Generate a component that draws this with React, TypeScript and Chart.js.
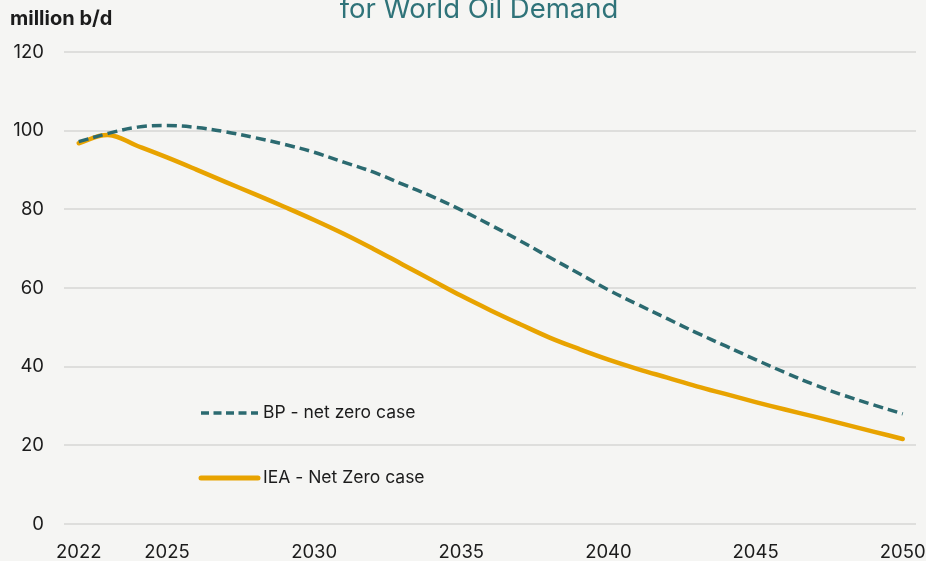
import React, { useEffect, useRef } from "react";
import { Chart, registerables } from "chart.js";

Chart.register(...registerables);

// Years on the horizontal axis
const years = [
  2022, 2023, 2024, 2025, 2026, 2027, 2028, 2029, 2030, 2031,
  2032, 2033, 2034, 2035, 2036, 2037, 2038, 2039, 2040, 2041,
  2042, 2043, 2044, 2045, 2046, 2047, 2048, 2049, 2050,
];

// World oil demand, million barrels per day
const bpNetZero = [
  97.2, 99.3, 100.9, 101.3, 100.8, 99.7, 98.2, 96.5, 94.5, 92.0,
  89.5, 86.4, 83.3, 79.8, 76.0, 72.0, 67.8, 63.7, 59.5, 55.8,
  52.2, 48.6, 45.2, 41.8, 38.5, 35.4, 32.7, 30.3, 28.0,
];
const ieaNetZero = [
  96.8, 98.9, 96.1, 93.2, 90.1, 86.9, 83.8, 80.6, 77.3, 73.8,
  70.0, 66.0, 62.0, 58.0, 54.3, 50.8, 47.4, 44.5, 41.8, 39.4,
  37.2, 35.0, 33.0, 31.0, 29.1, 27.3, 25.4, 23.5, 21.6,
];

const xTickYears = [2022, 2025, 2030, 2035, 2040, 2045, 2050];
const yTickValues = [0, 20, 40, 60, 80, 100, 120];

const titleText = "for World Oil Demand";
const unitText = "million b/d";
const seriesNames = ["BP - net zero case", "IEA - Net Zero case"];

const TEAL = "#2b6a70";
const TITLE_TEAL = "#2f7379";
const GOLD = "#e8a300";
const TEXT = "#1c1c1c";
const GRID = "#dededc";
const BG = "#f5f5f3";
const FONT = "Inter, 'Open Sans', sans-serif";

const decorations = {
  id: "decorations",
  beforeDraw(chart: any) {
    const { ctx, width, height } = chart;
    ctx.save();
    ctx.fillStyle = BG;
    ctx.fillRect(0, 0, width, height);
    ctx.restore();
  },
  afterDraw(chart: any) {
    const { ctx, chartArea } = chart;
    ctx.save();

    // heading (second line, partly above the canvas edge)
    ctx.fillStyle = TITLE_TEAL;
    ctx.font = `400 27.5px ${FONT}`;
    ctx.textAlign = "center";
    ctx.textBaseline = "alphabetic";
    ctx.fillText(titleText, 479, 18);

    // unit label
    ctx.fillStyle = TEXT;
    ctx.font = `700 20px ${FONT}`;
    ctx.textAlign = "left";
    ctx.fillText(unitText, 10, 25);

    // in-plot legend
    const items = [
      { name: seriesNames[0], color: TEAL, width: 3.5, dash: [8, 4.5], y: 413 },
      { name: seriesNames[1], color: GOLD, width: 5, dash: [], y: 478 },
    ];
    const x0 = chartArea.left + 137;
    items.forEach((it) => {
      ctx.beginPath();
      ctx.strokeStyle = it.color;
      ctx.lineWidth = it.width;
      ctx.lineCap = it.dash.length ? "butt" : "round";
      ctx.setLineDash(it.dash);
      ctx.moveTo(x0, it.y);
      ctx.lineTo(x0 + 57, it.y);
      ctx.stroke();
      ctx.setLineDash([]);
      ctx.fillStyle = TEXT;
      ctx.font = `400 17.5px ${FONT}`;
      ctx.textBaseline = "middle";
      ctx.fillText(it.name, x0 + 62, it.y);
    });
    ctx.restore();
  },
};

export default function App() {
  const canvasRef = useRef<HTMLCanvasElement | null>(null);

  useEffect(() => {
    document.body.style.margin = "0";
    document.body.style.background = BG;
    const canvas = canvasRef.current;
    if (!canvas) return;

    const chart = new Chart(canvas, {
      type: "line",
      data: {
        datasets: [
          {
            label: seriesNames[0],
            data: years.map((x, i) => ({ x, y: bpNetZero[i] })),
            borderColor: TEAL,
            borderWidth: 3.5,
            borderDash: [10, 5],
            pointRadius: 0,
            tension: 0.4,
            fill: false,
          },
          {
            label: seriesNames[1],
            data: years.map((x, i) => ({ x, y: ieaNetZero[i] })),
            borderColor: GOLD,
            borderWidth: 4.5,
            borderCapStyle: "round",
            pointRadius: 0,
            tension: 0.4,
            fill: false,
          },
        ],
      },
      options: {
        animation: false,
        responsive: false,
        devicePixelRatio: 1,
        layout: { padding: { top: 52, right: 10, left: 0, bottom: 0 } },
        plugins: {
          legend: { display: false },
          title: { display: false },
          tooltip: { enabled: false },
        },
        scales: {
          x: {
            type: "linear",
            min: 2021.5,
            max: 2050.45,
            afterBuildTicks: (scale: any) => {
              scale.ticks = xTickYears.map((value) => ({ value }));
            },
            afterFit: (scale: any) => {
              scale.height = 37;
              scale.paddingLeft = 0;
              scale.paddingRight = 0;
            },
            grid: { display: false, drawTicks: false },
            border: { display: false },
            ticks: {
              color: TEXT,
              font: { family: FONT, size: 18.5 },
              padding: 17,
              maxRotation: 0,
              autoSkip: false,
              callback: (v: any) => String(v),
            },
          },
          y: {
            min: 0,
            max: 120,
            afterBuildTicks: (scale: any) => {
              scale.ticks = yTickValues.map((value) => ({ value }));
            },
            afterFit: (scale: any) => {
              scale.width = 64;
            },
            grid: { color: GRID, lineWidth: 2, drawTicks: false },
            border: { display: false },
            ticks: {
              color: TEXT,
              font: { family: FONT, size: 18.5 },
              padding: 20,
              callback: (v: any) => String(v),
            },
          },
        },
      },
      plugins: [decorations],
    });

    return () => chart.destroy();
  }, []);

  return (
    <div style={{ width: 926, height: 561, background: BG }}>
      <canvas ref={canvasRef} width={926} height={561} />
    </div>
  );
}
